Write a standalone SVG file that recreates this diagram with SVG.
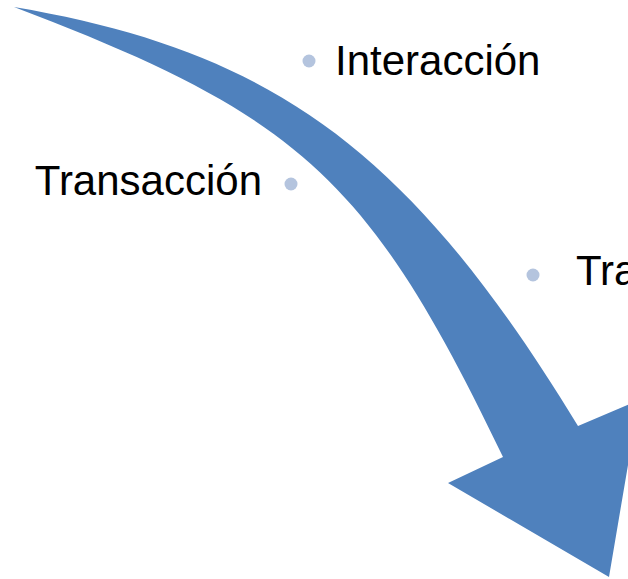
<svg xmlns="http://www.w3.org/2000/svg" width="628" height="579" viewBox="0 0 628 579">
<style>
.lbl{font-family:"Liberation Sans",Arial,sans-serif;font-size:42px;fill:#000}
.dot{fill:#b4c4de}
.arrow{fill:#4f81bd}
</style>
<rect width="628" height="579" fill="#fff"/>
<g id="connectors">
<path class="arrow" d="M14,7 C275.6,51.5 410.9,152 578,426 L639,400 L609,577 L448,483 L503,457 C369.4,179 300.9,116 14,7 Z"/>
</g>
<g id="node-interaccion">
<circle class="dot" cx="309" cy="61" r="6.5"/>
<text class="lbl" x="335" y="75">Interacción</text>
</g>
<g id="node-transaccion">
<circle class="dot" cx="291" cy="184" r="6.5"/>
<text class="lbl" x="262" y="195" text-anchor="end">Transacción</text>
</g>
<g id="node-tra">
<circle class="dot" cx="533" cy="275" r="6.5"/>
<text class="lbl" x="576" y="285">Tra</text>
</g>
</svg>
